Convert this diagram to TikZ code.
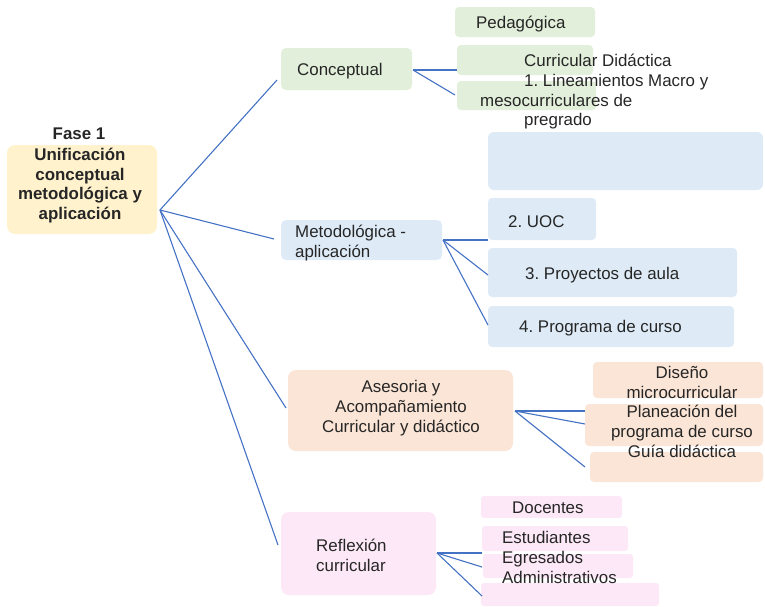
\documentclass[tikz,border=0pt]{standalone}
\usepackage{fontspec}
\setmainfont{Liberation Sans}
\frenchspacing
\definecolor{lgreen}{HTML}{E2EFDA}
\definecolor{lblue}{HTML}{DEEBF7}
\definecolor{lpeach}{HTML}{FBE5D6}
\definecolor{lpink}{HTML}{FCE8F6}
\definecolor{lyellow}{HTML}{FFF2CC}
\definecolor{linkblue}{HTML}{4472C4}
\begin{document}
\begin{tikzpicture}[x=1pt,y=-1pt,
  txt/.style={inner sep=0pt,font=\fontsize{16.9}{19.7}\selectfont,text=black!85},
  btxt/.style={txt,font=\fontsize{16.9}{19.7}\selectfont\bfseries},
  link/.style={draw=linkblue,line width=1.1pt}]
\useasboundingbox (0,0) rectangle (765,606);
% ---------- boxes ----------
\node[fill=lyellow,rounded corners=8pt,minimum width=150pt,minimum height=89pt,inner sep=0pt] (root) at (82,189.5) {};
% level 1
\node[fill=lgreen,rounded corners=5pt,minimum width=131pt,minimum height=42pt,inner sep=0pt] (cnc) at (346.5,69) {};
\node[fill=lblue,rounded corners=5pt,minimum width=161pt,minimum height=40pt,inner sep=0pt] (met) at (361.5,240) {};
\node[fill=lpeach,rounded corners=8pt,minimum width=225pt,minimum height=81pt,inner sep=0pt] (ase) at (400.5,410.5) {};
\node[fill=lpink,rounded corners=8pt,minimum width=155pt,minimum height=83pt,inner sep=0pt] (ref) at (358.5,553.5) {};
% conceptual children
\node[fill=lgreen,rounded corners=4pt,minimum width=140pt,minimum height=30pt,inner sep=0pt] (ped) at (525,22) {};
\node[fill=lgreen,rounded corners=4pt,minimum width=136pt,minimum height=30pt,inner sep=0pt] (cur) at (525,60) {};
\node[fill=lgreen,rounded corners=4pt,minimum width=139pt,minimum height=29pt,inner sep=0pt] (lin) at (526.5,95.5) {};
% metodologica children
\node[fill=lblue,rounded corners=6pt,minimum width=275pt,minimum height=58pt,inner sep=0pt] (emp) at (625.5,161) {};
\node[fill=lblue,rounded corners=4pt,minimum width=108pt,minimum height=42pt,inner sep=0pt] (uoc) at (542,219) {};
\node[fill=lblue,rounded corners=4pt,minimum width=249pt,minimum height=49pt,inner sep=0pt] (pro) at (612.5,272.5) {};
\node[fill=lblue,rounded corners=4pt,minimum width=246pt,minimum height=41pt,inner sep=0pt] (prg) at (611,326.5) {};
% asesoria children
\node[fill=lpeach,rounded corners=4pt,minimum width=170pt,minimum height=36pt,inner sep=0pt] (dis) at (678,380) {};
\node[fill=lpeach,rounded corners=4pt,minimum width=178pt,minimum height=42pt,inner sep=0pt] (pla) at (674,425) {};
\node[fill=lpeach,rounded corners=4pt,minimum width=173pt,minimum height=30pt,inner sep=0pt] (gui) at (676.5,467) {};
% reflexion children
\node[fill=lpink,rounded corners=3pt,minimum width=141pt,minimum height=22pt,inner sep=0pt] (doc) at (551.5,507) {};
\node[fill=lpink,rounded corners=3pt,minimum width=146pt,minimum height=25pt,inner sep=0pt] (est) at (555,538.5) {};
\node[fill=lpink,rounded corners=3pt,minimum width=150pt,minimum height=24pt,inner sep=0pt] (egr) at (558,566) {};
\node[fill=lpink,rounded corners=3pt,minimum width=178pt,minimum height=23pt,inner sep=0pt] (adm) at (570,594.5) {};
% ---------- connectors ----------
\coordinate (rj) at (160,210);
\coordinate (cncin) at (277,80);
\coordinate (metin) at (274,239);
\coordinate (asein) at (286,408);
\coordinate (refin) at (278,545);
\draw[link] (rj) -- (cncin);
\draw[link] (rj) -- (metin);
\draw[link] (rj) -- (asein);
\draw[link] (rj) -- (refin);
\coordinate (cj) at (413,70);
\draw[link] (cj) -- (cur.west |- cj);
\draw[link] (cj) -- (455,95) coordinate (lj);
\coordinate (mj) at (443,240);
\draw[link] (mj) -- (488,240) coordinate (mj1);
\draw[link] (mj) -- (488,275) coordinate (mj2);
\draw[link] (mj) -- (488,325) coordinate (mj3);
\coordinate (aj) at (515,411);
\draw[link] (aj) -- (585,411) coordinate (aj1);
\draw[link] (aj) -- (585,424) coordinate (aj2);
\draw[link] (aj) -- (585,467) coordinate (aj3);
\coordinate (fj) at (437,553);
\draw[link] (fj) -- (482,553) coordinate (fj1);
\draw[link] (fj) -- (482,567) coordinate (fj2);
\draw[link] (fj) -- (482,596) coordinate (fj3);
% ---------- texts ----------
\node[btxt,anchor=mid] (t0) at (79,137) {Fase 1};
\node[btxt,anchor=mid] (t1) at (80,158) {Unificación};
\node[btxt,anchor=mid] (t2) at (80,178) {conceptual};
\node[btxt,anchor=mid] (t3) at (80,197) {metodológica y};
\node[btxt,anchor=mid] (t4) at (80,217) {aplicación};
\node[txt,anchor=mid west] (tc) at (297,73) {Conceptual};
\node[txt,anchor=mid west] (tp) at (476,26) {Pedagógica};
\node[txt,anchor=mid west] (tc1) at (524,64) {Curricular Didáctica};
\node[txt,anchor=mid west] (tc2) at (524,84) {1. Lineamientos Macro y};
\node[txt,anchor=mid west] (tc3) at (480,104) {mesocurriculares de};
\node[txt,anchor=mid west] (tc4) at (524,123) {pregrado};
\node[txt,anchor=mid west] (tm1) at (295,235) {Metodológica -};
\node[txt,anchor=mid west] (tm2) at (295,255) {aplicación};
\node[txt,anchor=mid west] (tu) at (508,225) {2. UOC};
\node[txt,anchor=mid west] (tpr) at (525,277) {3. Proyectos de aula};
\node[txt,anchor=mid west] (tpg) at (519,330) {4. Programa de curso};
\node[txt,anchor=mid] (ta1) at (401,390) {Asesoria y};
\node[txt,anchor=mid] (ta2) at (401,410) {Acompañamiento};
\node[txt,anchor=mid] (ta3) at (401,430) {Curricular y didáctico};
\node[txt,anchor=mid] (td1) at (682,376) {Diseño};
\node[txt,anchor=mid] (td2) at (682,396) {microcurricular};
\node[txt,anchor=mid] (td3) at (682,415) {Planeación del};
\node[txt,anchor=mid] (td4) at (682,435) {programa de curso};
\node[txt,anchor=mid] (td5) at (682,455) {Guía didáctica};
\node[txt,anchor=mid west] (tr1) at (316,549) {Reflexión};
\node[txt,anchor=mid west] (tr2) at (316,569) {curricular};
\node[txt,anchor=mid west] (tdo) at (512,511) {Docentes};
\node[txt,anchor=mid west] (tes) at (502,541) {Estudiantes};
\node[txt,anchor=mid west] (teg) at (502,561) {Egresados};
\node[txt,anchor=mid west] (tad) at (502,581) {Administrativos};
\end{tikzpicture}
\end{document}
